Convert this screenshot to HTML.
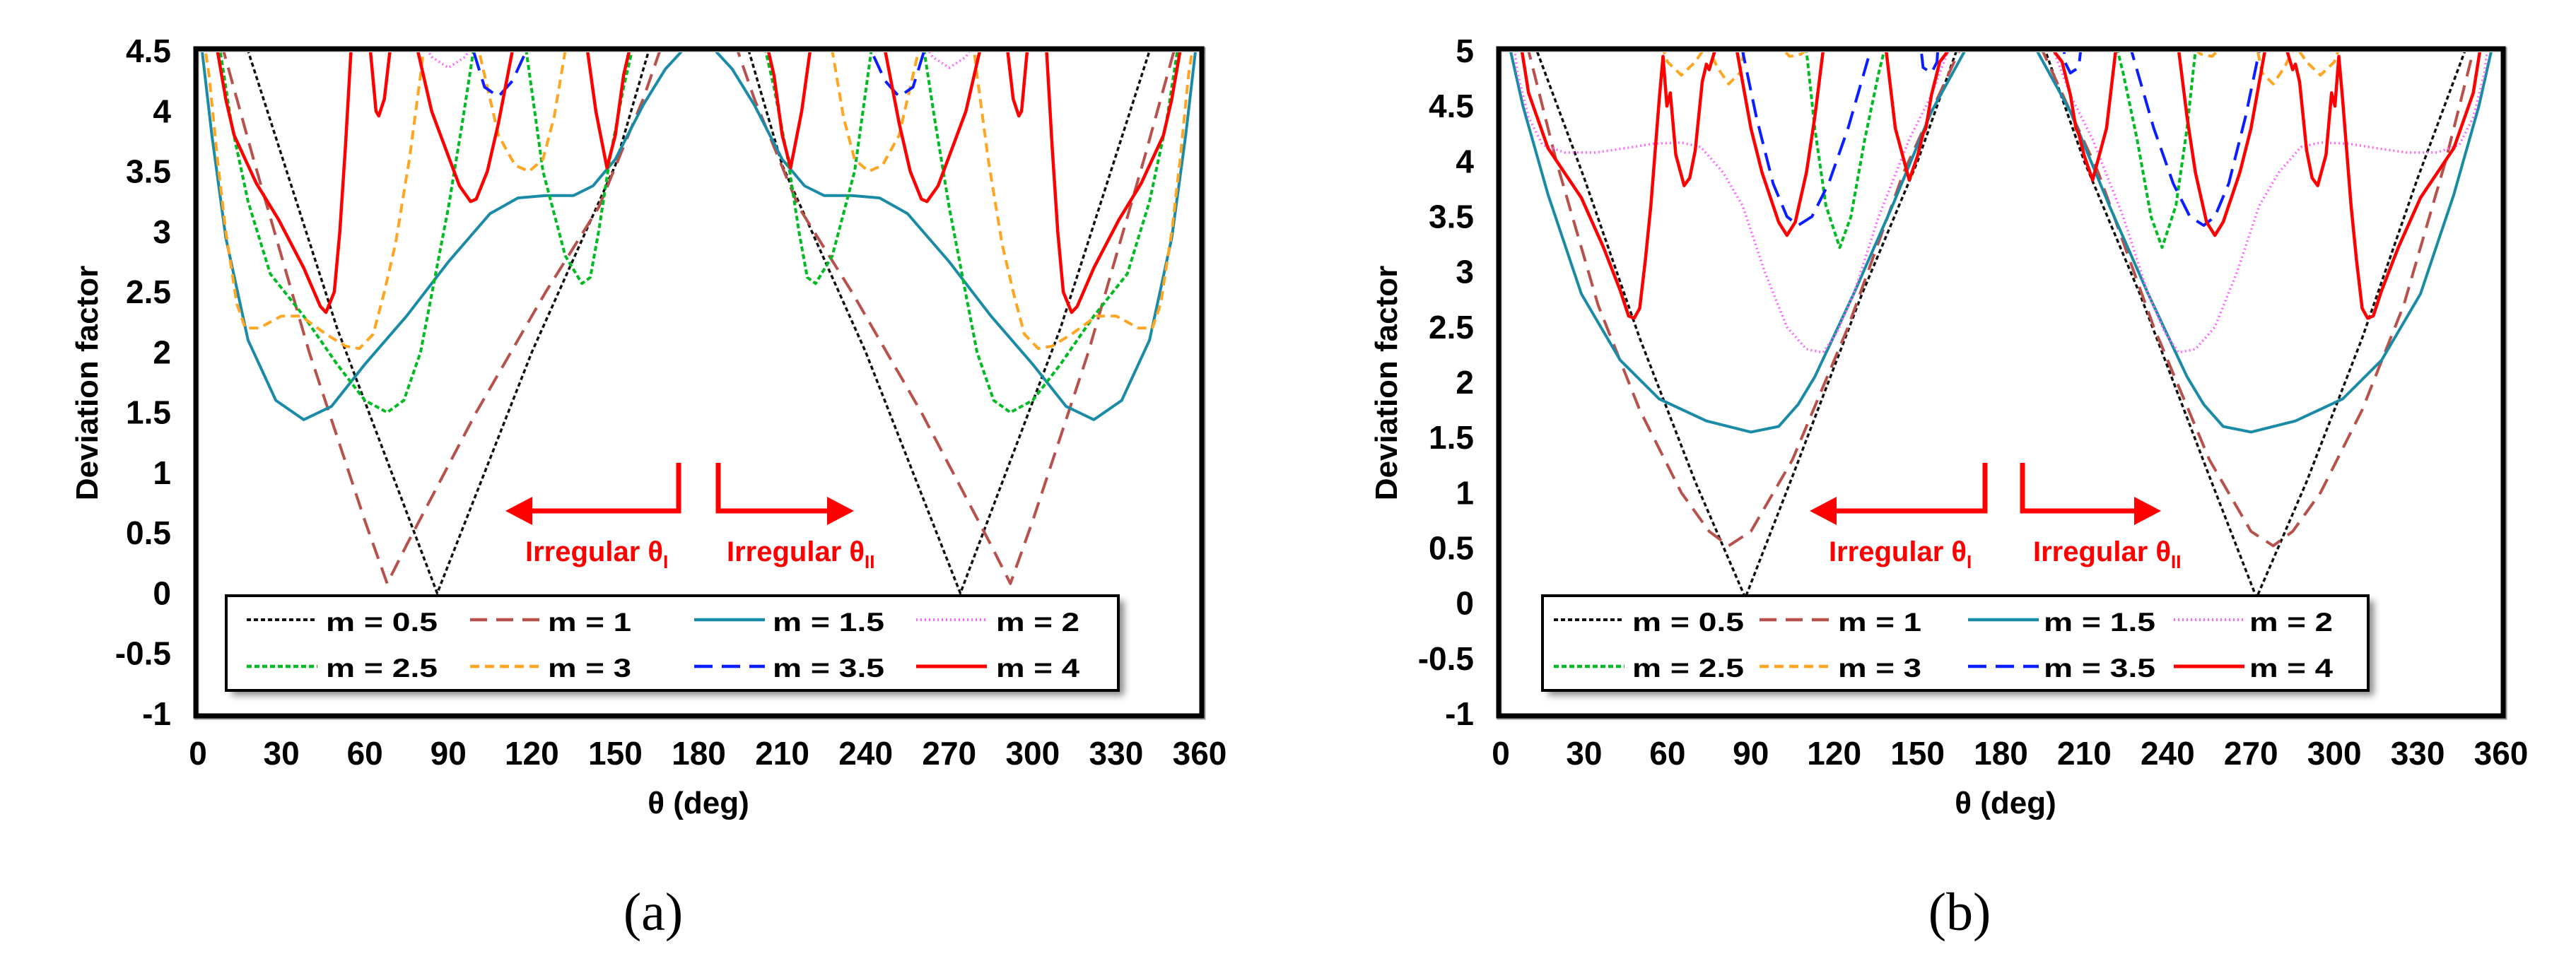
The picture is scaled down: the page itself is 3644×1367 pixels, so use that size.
<!DOCTYPE html>
<html><head><meta charset="utf-8"><style>html,body{margin:0;padding:0;background:#fff}svg{display:block}</style></head>
<body>
<svg id="fig" width="3644" height="1367" viewBox="0 0 3644 1367" xmlns="http://www.w3.org/2000/svg" font-family="'Liberation Sans', sans-serif">
<defs>
<clipPath id="clipA"><rect x="281" y="74" width="1413" height="935"/></clipPath>
<clipPath id="clipB"><rect x="2124" y="74" width="1413" height="935"/></clipPath>
<filter id="sh" x="-5%" y="-5%" width="115%" height="130%"><feGaussianBlur stdDeviation="5"/></filter>
</defs>
<g id="plotA"></g>
<g id="plotB"></g>
</svg>
<script>
// ---- data: panel (a), [theta(deg), deviation factor] ----
const a_m05 = [[15,4.8],[18,4.5],[50,2.2],[86,0],[120,2.0],[150,3.55],[162,4.5],[170,5],[190,5],[198,4.5],[210,3.55],[240,2.0],[274,0],[310,2.2],[342,4.5],[345,4.8]];
const a_m1 = [[6,5],[8,4.6],[20,3.6],[40,2.0],[60,0.6],[68,0.08],[75,0.4],[100,1.5],[125,2.5],[144,3.2],[160,4.1],[166,4.5],[170,5],[190,5],[194,4.5],[200,4.1],[216,3.2],[235,2.5],[260,1.5],[285,0.4],[292,0.08],[300,0.6],[320,2.0],[340,3.6],[352,4.6],[354,5]];
const a_m15 = [[1,4.6],[5,3.8],[10,2.95],[18,2.1],[28,1.6],[38,1.44],[48,1.55],[60,1.9],[75,2.3],[90,2.75],[105,3.15],[115,3.28],[125,3.3],[135,3.3],[142,3.38],[150,3.6],[160,4.05],[168,4.35],[174,4.5],[178,4.8],[182,4.8],[186,4.5],[192,4.35],[200,4.05],[210,3.6],[218,3.38],[225,3.3],[235,3.3],[245,3.28],[255,3.15],[270,2.75],[285,2.3],[300,1.9],[312,1.55],[322,1.44],[332,1.6],[342,2.1],[350,2.95],[355,3.8],[359,4.6]];
const a_m2 = [[80,4.6],[84,4.45],[90,4.36],[96,4.45],[100,4.6],[260,4.6],[264,4.45],[270,4.36],[276,4.45],[280,4.6]];
const a_m25 = [[5,4.8],[8,4.5],[12,3.9],[18,3.25],[26,2.65],[38,2.3],[50,1.9],[60,1.6],[68,1.5],[74,1.6],[80,2.0],[85,2.6],[90,3.2],[95,3.9],[99,4.5],[101,4.8],[110,5.5],[116,4.8],[118,4.5],[124,3.5],[132,2.8],[138,2.57],[141,2.62],[144,3.0],[148,3.6],[153,4.2],[156,4.5],[158,4.8],[180,5.5],[202,4.8],[204,4.5],[207,4.2],[212,3.6],[216,3.0],[219,2.62],[222,2.57],[228,2.8],[236,3.5],[242,4.5],[244,4.8],[250,5.5],[259,4.8],[261,4.5],[265,3.9],[270,3.2],[275,2.6],[280,2.0],[286,1.6],[292,1.5],[300,1.6],[310,1.9],[322,2.3],[334,2.65],[342,3.25],[348,3.9],[352,4.5],[355,4.8]];
const a_m3 = [[2,4.6],[4,4.3],[7,3.6],[10,3.0],[14,2.4],[17,2.2],[22,2.2],[30,2.3],[37,2.3],[46,2.15],[53,2.05],[58,2.03],[63,2.15],[67,2.5],[71,2.9],[76,3.6],[80,4.3],[82,4.7],[90,5.5],[99,4.7],[102,4.4],[108,3.8],[114,3.55],[119,3.5],[124,3.6],[128,3.95],[132,4.5],[134,4.8],[180,5.5],[226,4.8],[228,4.5],[232,3.95],[236,3.6],[241,3.5],[246,3.55],[252,3.8],[258,4.4],[261,4.7],[270,5.5],[278,4.7],[280,4.3],[284,3.6],[289,2.9],[293,2.5],[297,2.15],[302,2.03],[307,2.05],[314,2.15],[323,2.3],[330,2.3],[338,2.2],[343,2.2],[346,2.4],[350,3.0],[353,3.6],[356,4.3],[358,4.6]];
const a_m35 = [[96,4.7],[99,4.5],[103,4.2],[108,4.12],[113,4.25],[118,4.5],[120,4.7],[240,4.7],[242,4.5],[247,4.25],[252,4.12],[257,4.2],[261,4.5],[264,4.7]];
const a_m4 = [[5,4.8],[7,4.5],[10,4.1],[13,3.8],[21,3.4],[29,3.1],[38,2.7],[44,2.38],[46,2.33],[49,2.5],[51,3.0],[53,3.7],[55,4.5],[57,5.5],[60,5.5],[62,4.5],[64,4.0],[65,3.96],[67,4.1],[69,4.5],[71,5.5],[77,5.5],[79,4.5],[84,4.0],[88,3.75],[94,3.38],[98,3.25],[100,3.27],[104,3.5],[108,3.9],[113,4.5],[115,5.5],[138,5.5],[140,4.5],[143,4.0],[147,3.53],[150,3.8],[153,4.3],[155,4.5],[157,5.5],[203,5.5],[205,4.5],[207,4.3],[210,3.8],[213,3.53],[217,4.0],[220,4.5],[222,5.5],[245,5.5],[247,4.5],[252,3.9],[256,3.5],[260,3.27],[262,3.25],[266,3.38],[272,3.75],[276,4.0],[281,4.5],[283,5.5],[289,5.5],[291,4.5],[293,4.1],[295,3.96],[296,4.0],[298,4.5],[300,5.5],[303,5.5],[305,4.5],[307,3.7],[309,3.0],[311,2.5],[314,2.33],[316,2.38],[322,2.7],[331,3.1],[339,3.4],[347,3.8],[350,4.1],[353,4.5],[355,4.8]];

// ---- data: panel (b) ----
const b_m05 = [[10,5.3],[13,5],[30,3.85],[50,2.4],[70,1.1],[88,0.05],[105,1.15],[130,2.8],[150,4.0],[164,5],[167,5.3],[193,5.3],[196,5],[210,4.0],[230,2.8],[255,1.15],[272,0.05],[290,1.1],[310,2.4],[330,3.85],[347,5],[350,5.3]];
const b_m1 = [[7,5.3],[10,5],[20,4.0],[35,2.7],[50,1.75],[65,1.0],[75,0.65],[82,0.52],[90,0.65],[105,1.3],[125,2.5],[145,3.9],[165,5],[168,5.3],[192,5.3],[195,5],[215,3.9],[235,2.5],[255,1.3],[270,0.65],[278,0.52],[285,0.65],[295,1.0],[310,1.75],[325,2.7],[340,4.0],[350,5],[353,5.3]];
const b_m15 = [[2,5.3],[3.5,5],[8,4.5],[17,3.7],[29,2.8],[43,2.2],[57,1.85],[74,1.65],[90,1.55],[100,1.6],[107,1.8],[113,2.05],[127,2.8],[141,3.6],[155,4.45],[167,5],[170,5.3],[190,5.3],[193,5],[205,4.45],[219,3.6],[233,2.8],[247,2.05],[253,1.8],[260,1.6],[270,1.55],[286,1.65],[303,1.85],[317,2.2],[331,2.8],[343,3.7],[352,4.5],[356.5,5],[358,5.3]];
const b_m2 = [[4,5.2],[6,4.8],[10,4.4],[15,4.15],[23,4.08],[34,4.08],[45,4.12],[55,4.16],[65,4.17],[72,4.13],[80,3.9],[87,3.6],[95,3.0],[103,2.5],[110,2.3],[116,2.27],[121,2.45],[127,2.8],[136,3.5],[147,4.2],[155,4.6],[161,5],[164,5.3],[196,5.3],[199,5],[205,4.6],[213,4.2],[224,3.5],[233,2.8],[239,2.45],[244,2.27],[250,2.3],[257,2.5],[265,3.0],[273,3.6],[280,3.9],[288,4.13],[295,4.17],[305,4.16],[315,4.12],[326,4.08],[337,4.08],[345,4.15],[350,4.4],[354,4.8],[356,5.2]];
const b_m25 = [[107,5.3],[110,5],[113,4.3],[117,3.6],[122,3.22],[126,3.5],[131,4.2],[136,4.8],[138,5],[140,5.3],[220,5.3],[222,5],[224,4.8],[229,4.2],[234,3.5],[238,3.22],[243,3.6],[247,4.3],[250,5],[253,5.3]];
const b_m3 = [[58,5.05],[60,4.9],[65,4.78],[70,4.9],[74,5.05],[78,4.85],[82,4.7],[86,4.8],[88,5.05],[100,5.05],[104,4.95],[108,4.97],[112,5.05],[248,5.05],[252,4.97],[256,4.95],[260,5.05],[272,5.05],[274,4.8],[278,4.7],[282,4.85],[286,5.05],[290,4.9],[295,4.78],[300,4.9],[302,5.05]];
const b_m35 = [[86,5.3],[87,5],[92,4.4],[98,3.8],[103,3.5],[107,3.42],[112,3.5],[118,3.8],[125,4.3],[133,5],[135,5.3],[150,5.3],[152,4.85],[155,4.8],[157,4.9],[158,5.3],[202,5.3],[203,4.9],[205,4.8],[208,4.85],[210,5.3],[225,5.3],[227,5],[235,4.3],[242,3.8],[248,3.5],[253,3.42],[257,3.5],[262,3.8],[268,4.4],[273,5],[274,5.3]];
const b_m4 = [[6,5.3],[7.6,5],[10,4.62],[17,4.12],[29,3.67],[37,3.22],[43,2.83],[46,2.6],[48,2.58],[50,2.67],[52,3.1],[54,3.6],[57,4.55],[58.4,4.95],[59.8,4.5],[61,4.62],[63,4.06],[66,3.78],[68,3.85],[70,4.1],[72.5,4.72],[74,4.88],[75,4.83],[77,5],[78,5.5],[84,5.5],[85,5],[90,4.3],[94,3.9],[100,3.45],[103,3.33],[106,3.45],[110,3.9],[113,4.4],[116,5],[117,5.5],[137,5.5],[138.7,5],[142,4.3],[147,3.83],[150,4.05],[152,4.25],[153,4.3],[155,4.6],[158,4.9],[161,5],[162,5.5],[198,5.5],[199,5],[202,4.9],[205,4.6],[207,4.3],[208,4.25],[210,4.05],[213,3.83],[218,4.3],[221.3,5],[223,5.5],[243,5.5],[244,5],[247,4.4],[250,3.9],[254,3.45],[257,3.33],[260,3.45],[266,3.9],[270,4.3],[275,5],[276,5.5],[282,5.5],[283,5],[285,4.83],[286,4.88],[287.5,4.72],[290,4.1],[292,3.85],[294,3.78],[297,4.06],[299,4.62],[300.2,4.5],[301.6,4.95],[303,4.55],[306,3.6],[308,3.1],[310,2.67],[312,2.58],[314,2.6],[317,2.83],[323,3.22],[331,3.67],[343,4.12],[350,4.62],[352.4,5],[354,5.3]];

const legendLabels = ["m = 0.5","m = 1","m = 1.5","m = 2","m = 2.5","m = 3","m = 3.5","m = 4"];
const xTicks = [0,30,60,90,120,150,180,210,240,270,300,330,360];
const yTicksA = [-1,-0.5,0,0.5,1,1.5,2,2.5,3,3.5,4,4.5];
const yTicksB = [-1,-0.5,0,0.5,1,1.5,2,2.5,3,3.5,4,4.5,5];

const NS = "http://www.w3.org/2000/svg";
const styles = [
 {c:"#111111", w:3.5, d:"6 4"},
 {c:"#B8504C", w:4, d:"24 13"},
 {c:"#1A8BA6", w:4, d:""},
 {c:"#FF66FF", w:3.5, d:"2 4"},
 {c:"#00BB22", w:4, d:"7 4"},
 {c:"#FFA520", w:4, d:"13 8"},
 {c:"#0A1EFF", w:4, d:"26 13"},
 {c:"#FF0000", w:4.5, d:""}
];
function mk(tag, attrs, parent){ const e=document.createElementNS(NS,tag); for(const k in attrs) e.setAttribute(k,attrs[k]); parent.appendChild(e); return e; }

function drawPanel(g, P){
  const sx = v => P.x0 + (v/360)*(P.x1-P.x0);
  const sy = v => P.y1 - (v-P.ymin)/(P.ymax-P.ymin)*(P.y1-P.y0);
  // series
  const sg = mk("g",{"clip-path":"url(#"+P.clip+")"},g);
  
  
  P.series.forEach((s,i)=>{
    const st=styles[i];
    const d = s.map((p,j)=>(j?"L":"M")+sx(p[0]).toFixed(1)+","+sy(p[1]).toFixed(1)).join(" ");
    const path = mk("path",{d:d,fill:"none",stroke:st.c,"stroke-width":st.w,"stroke-dasharray":st.d,"stroke-linejoin":"round"},sg);
    
    
  });
  // frame
  const fs = mk("rect",{x:P.x0-2,y:P.y0-2,width:P.x1-P.x0+7,height:P.y1-P.y0+7,fill:"none",stroke:"#999","stroke-width":7},g);
  
  
  const fr = mk("rect",{x:P.x0-3,y:P.y0-3,width:P.x1-P.x0+6,height:P.y1-P.y0+6,fill:"none",stroke:"#000","stroke-width":7},g);
  
  
  // y ticks
  P.yt.forEach(v=>{
    const t = mk("text",{x:P.x0-38,y:sy(v)+16,"text-anchor":"end","font-size":46,"font-weight":"bold"},g);
    t.textContent = String(v);
    
    
  });
  xTicks.forEach(v=>{
    const t = mk("text",{x:sx(v),y:1082,"text-anchor":"middle","font-size":46,"font-weight":"bold"},g);
    t.textContent = String(v);
    
    
  });
  const xt = mk("text",{x:P.xtx,y:1151,"text-anchor":"middle","font-size":44,"font-weight":"bold"},g);
  xt.textContent = "θ (deg)";
  
  
  const yt = mk("text",{x:0,y:0,"text-anchor":"middle","font-size":44,"font-weight":"bold",transform:"translate("+(P.ytx+15)+",542) rotate(-90)"},g);
  yt.textContent = "Deviation factor";
  
  
  const cap = mk("text",{x:P.capx,y:1316,"text-anchor":"middle","font-size":76,"font-family":"'Liberation Serif', serif"},g);
  cap.textContent = P.cap;
  
  
  // arrows
  const red="#FF0000";
  const ag = mk("g",{},g);
  
  
  const l1 = mk("path",{d:`M${P.av1},655 L${P.av1},723 L${P.at1+36},723`,fill:"none",stroke:red,"stroke-width":7},ag);
  
  
  const h1 = mk("polygon",{points:`${P.at1},723 ${P.at1+38},703 ${P.at1+38},743`,fill:red},ag);
  
  
  const l2 = mk("path",{d:`M${P.av2},655 L${P.av2},723 L${P.at2-36},723`,fill:"none",stroke:red,"stroke-width":7},ag);
  
  
  const h2 = mk("polygon",{points:`${P.at2},723 ${P.at2-38},703 ${P.at2-38},743`,fill:red},ag);
  
  
  const t1 = mk("text",{x:P.tx1,y:794,"font-size":40,"font-weight":"bold",fill:red},ag);
  t1.innerHTML = 'Irregular θ<tspan font-size="26" dy="10">I</tspan>';
  
  
  const t2 = mk("text",{x:P.tx2,y:794,"font-size":40,"font-weight":"bold",fill:red},ag);
  t2.innerHTML = 'Irregular θ<tspan font-size="26" dy="10">II</tspan>';
  
  
  // legend
  const lg = mk("g",{},g);
  
  
  const lsh = mk("rect",{x:P.lx0+8,y:850,width:P.lx1-P.lx0,height:134,fill:"#888",filter:"url(#sh)"},lg);
  
  
  const lb = mk("rect",{x:P.lx0,y:843,width:P.lx1-P.lx0,height:134,fill:"#fff",stroke:"#000","stroke-width":4},lg);
  
  
  legendLabels.forEach((lab,i)=>{
    const col=i%4,row=Math.floor(i/4);
    const ly = row?943:877;
    const st=styles[i];
    const ls = mk("line",{x1:P.ls[col],x2:P.ls[col]+100,y1:ly,y2:ly,stroke:st.c,"stroke-width":st.w+0.5,"stroke-dasharray":st.d},lg);
    
    
    const lt = mk("text",{x:P.lt[col],y:row?958:893,"font-size":37,"font-weight":"bold",textLength:lab.length>5?158:118,lengthAdjust:"spacingAndGlyphs"},lg);
    lt.textContent = lab;
    
    
  });
}

drawPanel(document.getElementById("plotA"),{
  x0:280,x1:1697,y0:72,y1:1010,ymin:-1,ymax:4.5,clip:"clipA",yt:yTicksA,
  series:[a_m05,a_m1,a_m15,a_m2,a_m25,a_m3,a_m35,a_m4],
  xtx:988,ytx:123,capx:924,cap:"(a)",
  av1:960,at1:715,av2:1016,at2:1208,tx1:743,tx2:1028,
  lx0:320,lx1:1582,ls:[349,665,982,1296],lt:[461,775,1093,1409]
});
drawPanel(document.getElementById("plotB"),{
  x0:2123,x1:3538,y0:72,y1:1010,ymin:-1,ymax:5,clip:"clipB",yt:yTicksB,
  series:[b_m05,b_m1,b_m15,b_m2,b_m25,b_m3,b_m35,b_m4],
  xtx:2837,ytx:1961,capx:2772,cap:"(b)",
  av1:2808,at1:2560,av2:2861,at2:3057,tx1:2587,tx2:2876,
  lx0:2182,lx1:3350,ls:[2198,2489,2784,3075],lt:[2309,2600,2891,3182]
});
</script>
</body></html>
